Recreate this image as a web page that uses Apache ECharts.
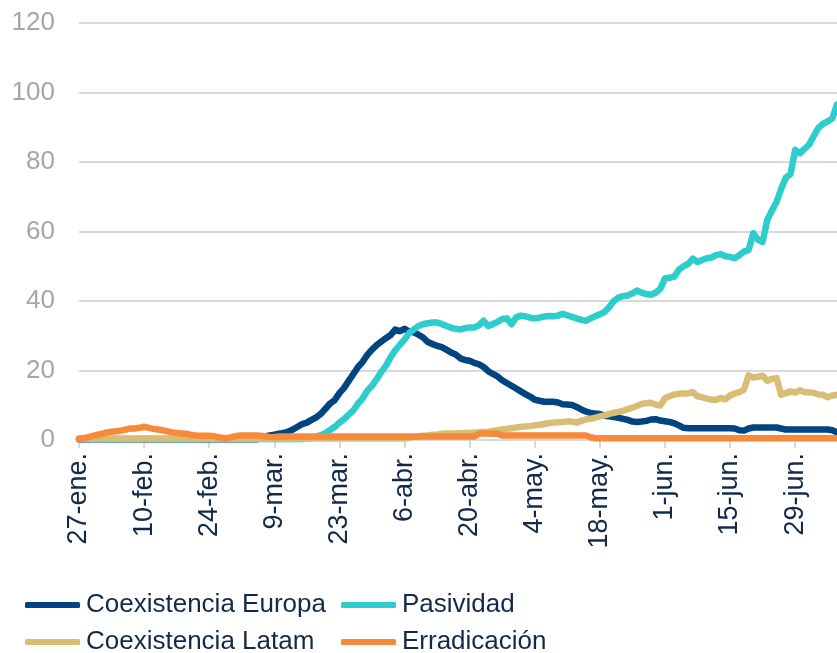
<!DOCTYPE html>
<html>
<head>
<meta charset="utf-8">
<script src="https://cdn.jsdelivr.net/npm/echarts@6/dist/echarts.min.js"></script>
<style>
  html, body { margin: 0; padding: 0; background: #fff; }
  #main { width: 837px; height: 653px; }
</style>
</head>
<body>
<div id="main"></div>
<script>
// fechas diarias desde el 27-ene (2020)
var meses = ['ene', 'feb', 'mar', 'abr', 'may', 'jun', 'jul'];
var fechas = [];
var inicio = Date.UTC(2020, 0, 27);
for (var i = 0; i < 164; i++) {
  var d = new Date(inicio + i * 86400000);
  fechas.push(d.getUTCDate() + '-' + meses[d.getUTCMonth()] + '.');
}

var yTicks = [0, 20, 40, 60, 80, 100, 120];

var europa = [
  0.2,0.2,0.2,0.2,0.2,0.2,0.2,0.2,0.2,0.2,0.2,0.2,0.2,0.2,
  0.2,0.2,0.2,0.2,0.2,0.2,0.2,0.2,0.2,0.2,0.2,0.2,0.2,0.2,
  0.2,0.2,0.2,0.2,0.2,0.2,0.2,0.2,0.2,0.2,0.2,0.5,1.0,1.3,
  1.5,1.8,2.0,2.4,3.0,3.8,4.6,5.0,5.8,6.5,7.5,9.0,10.5,11.5,
  13.5,15,17,19,21,22.5,24.5,26,27.3,28.3,29.3,30.2,31.8,31.3,
  32,31.2,31,30.3,29.5,28.2,27.6,27.1,26.7,26,25.2,24.6,23.5,23,
  22.8,22.2,21.8,21,19.8,19,18.3,17.2,16.4,15.6,14.8,14.0,13.2,12.5,
  11.6,11.3,11.0,11.0,11.0,10.8,10.3,10.2,10.1,9.5,8.8,8.2,7.8,7.6,
  7.5,7.0,6.8,6.6,6.4,6.1,5.8,5.3,5.2,5.3,5.5,5.9,6.0,5.6,
  5.4,5.2,4.8,4.2,3.5,3.4,3.4,3.4,3.4,3.4,3.4,3.4,3.4,3.4,
  3.4,3.3,2.8,2.7,3.3,3.6,3.6,3.6,3.6,3.6,3.6,3.3,3.0,3.0,
  3.0,3.0,3.0,3.0,3.0,3.0,3.0,3.0,2.8,2.2
];

var pasividad = [
  0.3,0.3,0.3,0.3,0.3,0.3,0.3,0.3,0.3,0.3,0.3,0.3,0.3,0.3,
  0.3,0.3,0.3,0.3,0.3,0.3,0.3,0.3,0.3,0.3,0.3,0.3,0.3,0.3,
  0.3,0.3,0.3,0.3,0.3,0.3,0.3,0.3,0.3,0.3,0.3,0.3,0.3,0.3,
  0.3,0.3,0.3,0.3,0.3,0.3,0.3,0.5,0.6,1.0,1.4,2.0,2.9,3.8,
  5.0,6.0,7.3,8.5,10.5,12.0,14.2,15.6,17.5,19.6,21.4,23.8,25.8,27.4,
  28.9,30.8,31.8,32.8,33.3,33.6,33.8,33.8,33.4,32.8,32.3,32.0,31.8,32.2,
  32.4,32.4,33.0,34.3,32.8,33.4,34.0,34.8,35.0,33.3,35.3,35.8,35.6,35.2,
  35.0,35.2,35.5,35.7,35.6,35.8,36.3,35.9,35.4,35.0,34.6,34.3,35.0,35.6,
  36.2,36.8,38.2,40.0,41.0,41.4,41.6,42.2,43.0,42.4,42.0,41.8,42.4,43.5,
  46.5,46.7,47.0,49.0,50.0,50.7,52.2,51.2,51.8,52.3,52.5,53.2,53.5,52.9,
  52.7,52.3,53.2,54.2,54.7,59.5,57.6,57.0,63.3,66.0,68.5,72.3,75.5,76.5,
  83.5,82.5,83.8,85.0,87.5,89.8,91.0,91.7,92.6,96.5
];

var latam = [
  0.4,0.4,0.4,0.4,0.4,0.4,0.4,0.4,0.4,0.4,0.4,0.4,0.4,0.4,
  0.4,0.4,0.4,0.4,0.4,0.4,0.4,0.4,0.4,0.4,0.4,0.4,0.4,0.4,
  0.4,0.4,0.4,0.4,0.4,0.4,0.4,0.4,0.4,0.4,0.4,0.4,0.4,0.4,
  0.4,0.4,0.4,0.4,0.4,0.4,0.4,0.4,0.4,0.4,0.4,0.4,0.4,0.4,
  0.4,0.4,0.4,0.4,0.4,0.4,0.4,0.4,0.4,0.4,0.4,0.4,0.4,0.4,
  0.4,0.6,0.9,1.0,1.2,1.3,1.5,1.6,1.8,1.9,1.9,1.9,2.0,2.0,
  2.0,2.1,2.2,2.3,2.4,2.6,2.8,3.0,3.2,3.4,3.6,3.8,3.9,4.0,
  4.2,4.4,4.6,4.8,5.0,5.1,5.2,5.3,5.3,5.0,5.5,5.9,6.1,6.4,
  6.8,7.1,7.5,7.8,8.1,8.4,8.9,9.3,9.8,10.4,10.6,10.7,10.2,9.9,
  12.0,12.6,13.1,13.3,13.4,13.4,13.8,12.6,12.3,11.9,11.6,11.6,12.1,11.7,
  12.8,13.4,13.8,14.5,18.6,18.0,18.2,18.5,17.0,17.6,17.8,13.0,13.5,14.0,
  13.6,14.3,13.8,13.7,13.6,13.1,13.0,12.3,12.8,13.0
];

var erradicacion = [
  0.3,0.5,0.8,1.2,1.5,1.8,2.2,2.4,2.5,2.7,3.0,3.3,3.3,3.5,
  3.8,3.5,3.2,3.0,2.8,2.5,2.2,2.0,1.9,1.8,1.5,1.3,1.2,1.2,
  1.2,1.1,0.8,0.6,0.6,0.9,1.2,1.3,1.3,1.3,1.3,1.2,1.1,0.9,
  0.8,1.0,1.0,1.0,1.0,1.0,1.0,1.0,1.0,1.0,1.0,1.0,1.0,1.0,
  1.0,1.0,1.0,1.0,1.0,1.0,1.0,1.0,1.0,1.0,1.0,1.0,1.0,1.0,
  1.0,1.0,1.0,1.0,1.0,1.0,1.0,1.0,1.0,1.0,1.0,1.0,1.0,1.0,
  1.0,1.0,1.8,1.9,1.9,1.8,1.8,1.3,1.3,1.3,1.3,1.3,1.3,1.3,
  1.3,1.3,1.3,1.3,1.3,1.3,1.3,1.3,1.3,1.3,1.3,1.3,0.8,0.5,
  0.5,0.5,0.5,0.5,0.5,0.5,0.5,0.5,0.5,0.5,0.5,0.5,0.5,0.5,
  0.5,0.5,0.5,0.5,0.5,0.5,0.5,0.5,0.5,0.5,0.5,0.5,0.5,0.5,
  0.5,0.5,0.5,0.5,0.5,0.5,0.5,0.5,0.5,0.5,0.5,0.5,0.5,0.5,
  0.5,0.5,0.5,0.5,0.5,0.5,0.5,0.5,0.5,0.5
];

var fuente = '"Liberation Sans", Arial, sans-serif';
var textoOscuro = '#13294b';

function serie(nombre, datos, color) {
  return {
    name: nombre,
    type: 'line',
    data: datos,
    symbol: 'none',
    smooth: false,
    lineStyle: { color: color, width: 6.5, cap: 'round', join: 'round' },
    itemStyle: { color: color }
  };
}

// una leyenda por entrada para alinear las dos columnas
function leyenda(nombre, x, y) {
  return {
    left: x, top: y, padding: 0,
    data: [nombre],
    icon: 'roundRect', itemWidth: 55, itemHeight: 6, itemGap: 6,
    textStyle: { color: textoOscuro, fontSize: 26, fontFamily: fuente, padding: [0, 0, 0, 1] }
  };
}

var myChart = echarts.init(document.getElementById('main'));
var option = {
  animation: false,
  backgroundColor: '#fff',
  grid: { left: 79, right: 0, top: 23, bottom: 213 },
  legend: [
    leyenda('Coexistencia Europa', 25, 592),
    leyenda('Pasividad', 341, 592),
    leyenda('Coexistencia Latam', 25, 629),
    leyenda('Erradicación', 341, 629)
  ],
  xAxis: {
    type: 'category',
    data: fechas,
    boundaryGap: false,
    axisLine: { lineStyle: { color: '#d9d9d9', width: 2 } },
    axisTick: { show: true, interval: 13, length: 8, lineStyle: { color: '#d9d9d9', width: 2 } },
    axisLabel: {
      interval: 13, rotate: 90, margin: 13,
      color: textoOscuro, fontSize: 27, fontFamily: fuente
    },
    splitLine: { show: false }
  },
  yAxis: {
    type: 'value',
    min: yTicks[0],
    max: yTicks[yTicks.length - 1],
    interval: 20,
    axisLine: { show: false },
    axisTick: { show: false },
    axisLabel: { color: '#a6a6a6', fontSize: 26, fontFamily: fuente, margin: 24 },
    splitLine: { lineStyle: { color: '#d9d9d9', width: 2 } }
  },
  series: [
    serie('Coexistencia Europa', europa, '#004481'),
    serie('Pasividad', pasividad, '#2dcccd'),
    serie('Coexistencia Latam', latam, '#d8be75'),
    serie('Erradicación', erradicacion, '#f7893b')
  ]
};
myChart.setOption(option);
</script>
</body>
</html>
